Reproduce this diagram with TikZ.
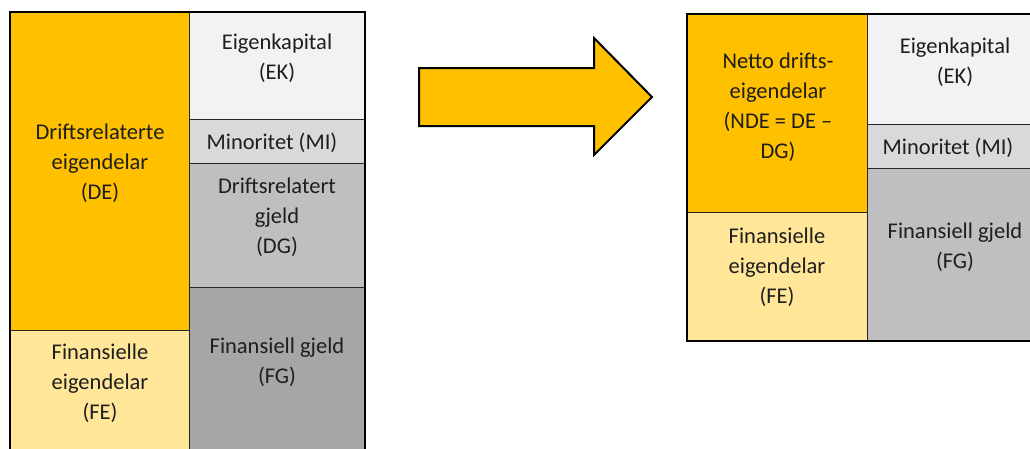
\documentclass[tikz,border=0pt]{standalone}
\usepackage{fontspec}
\setmainfont{Carlito}
\definecolor{deorange}{HTML}{FFC000}
\definecolor{felight}{HTML}{FFE699}
\definecolor{ekgrey}{HTML}{F2F2F2}
\definecolor{migrey}{HTML}{D9D9D9}
\definecolor{dggrey}{HTML}{BFBFBF}
\definecolor{fggrey}{HTML}{A6A6A6}
\definecolor{ink}{HTML}{1E1E1E}
\begin{document}
\begin{tikzpicture}[x=1pt,y=-1pt,
  cell/.style={draw=black!85, line width=0.8pt, anchor=north west, inner sep=0pt},
  lbl/.style={align=center, font=\fontsize{22.5}{30}\selectfont, text=ink, inner sep=0pt},
  frame/.style={draw=black, line width=2.5pt}]
\useasboundingbox (0,0) rectangle (1030,448);
\clip (0,0) rectangle (1030,448);

% Balance sheet before reclassification
\node[cell, fill=deorange, minimum width=179pt, minimum height=318pt] (de) at (10,12) {};
\node[cell, fill=felight,  minimum width=179pt, minimum height=130pt] (fe) at (10,330) {};
\node[cell, fill=ekgrey,   minimum width=176pt, minimum height=107pt] (ek) at (189,12) {};
\node[cell, fill=migrey,   minimum width=176pt, minimum height=44pt]  (mi) at (189,119) {};
\node[cell, fill=dggrey,   minimum width=176pt, minimum height=124pt] (dg) at (189,163) {};
\node[cell, fill=fggrey,   minimum width=176pt, minimum height=173pt] (fg) at (189,287) {};
\draw[frame] (10,12) rectangle (365,460);

\node[lbl] (deT) at (100,163) {Driftsrelaterte\\eigendelar\\(DE)};
\node[lbl] (feT) at (100,383) {Finansielle\\eigendelar\\(FE)};
\node[lbl] (ekT) at (277,58)  {Eigenkapital\\(EK)};
\node[lbl] (miT) at (272,143) {Minoritet (MI)};
\node[lbl] (dgT) at (277,217) {Driftsrelatert\\gjeld\\(DG)};
\node[lbl] (fgT) at (277,362) {Finansiell gjeld\\(FG)};

% Transition arrow
\draw[fill=deorange, draw=black, line width=2pt, line join=miter]
  (419,68) -- (594,68) -- (594,38) -- (652,97) -- (594,155) -- (594,126) -- (419,126) -- cycle;

% Balance sheet after netting operating liabilities
\node[cell, fill=deorange, minimum width=180pt, minimum height=198pt] (nde) at (687,14) {};
\node[cell, fill=felight,  minimum width=180pt, minimum height=129pt] (fe2) at (687,212) {};
\node[cell, fill=ekgrey,   minimum width=176pt, minimum height=110pt] (ek2) at (867,14) {};
\node[cell, fill=migrey,   minimum width=176pt, minimum height=44pt]  (mi2) at (867,124) {};
\node[cell, fill=dggrey,   minimum width=176pt, minimum height=173pt] (fg2) at (867,168) {};
\draw[frame] (687,14) rectangle (1043,341);

\node[lbl] (ndeT) at (778,107) {Netto drifts-\\eigendelar\\(NDE = DE –\\DG)};
\node[lbl] (fe2T) at (777,267) {Finansielle\\eigendelar\\(FE)};
\node[lbl] (ek2T) at (955,62)  {Eigenkapital\\(EK)};
\node[lbl] (mi2T) at (948,148) {Minoritet (MI)};
\node[lbl] (fg2T) at (955,247) {Finansiell gjeld\\(FG)};
\end{tikzpicture}
\end{document}
